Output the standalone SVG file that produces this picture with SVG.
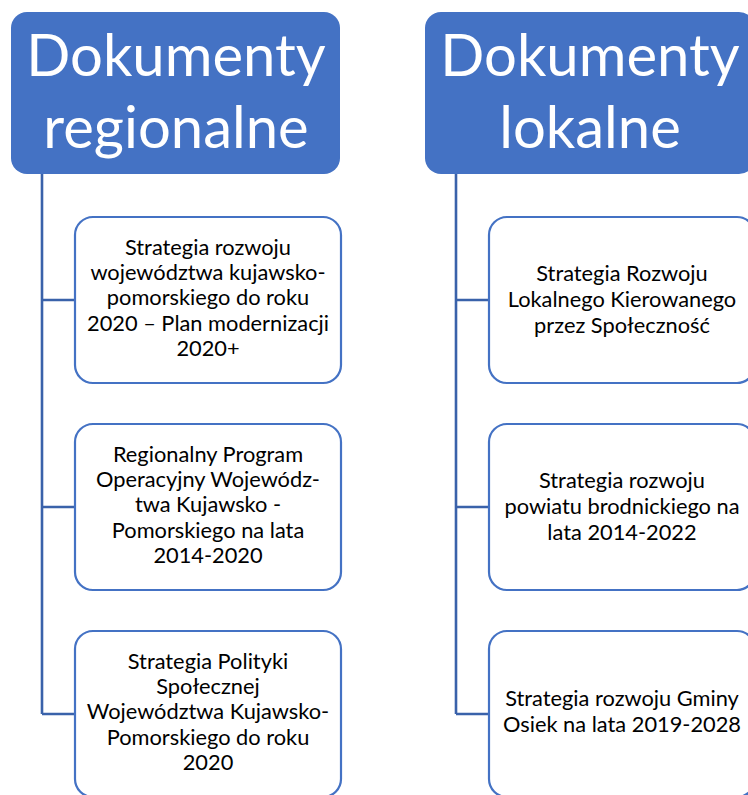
<svg xmlns="http://www.w3.org/2000/svg" width="748" height="795" viewBox="0 0 748 795">
<style>
.hdr{fill:#4472C4;}
.hdrt{font-family:Lato,"Liberation Sans",sans-serif;font-size:58px;fill:#fff;text-anchor:middle;}
.box{fill:#fff;stroke:#4472C4;stroke-width:2.2;}
.t{font-family:Lato,"Liberation Sans",sans-serif;font-size:21.8px;fill:#000;text-anchor:middle;}
.con{fill:none;stroke:#3A62AA;stroke-width:2.6;}
</style>
<rect width="748" height="795" fill="#fff"/>
<g id="connectors">
<path class="con" d="M42 174 V714 M42 300 H75 M42 507 H75 M42 714 H75"/>
<path class="con" d="M456 174 V714 M456 300 H489 M456 507 H489 M456 714 H489"/>
</g>
<g id="h1">
<rect class="hdr" x="11" y="12" width="329" height="162" rx="16"/>
<text class="hdrt" x="176" y="76">Dokumenty</text>
<text class="hdrt" x="176" y="148">regionalne</text>
</g>
<g id="h2">
<rect class="hdr" x="425" y="12" width="330" height="162" rx="16"/>
<text class="hdrt" x="590" y="76">Dokumenty</text>
<text class="hdrt" x="590" y="148">lokalne</text>
</g>
<g id="l1">
<rect class="box" x="75" y="217" width="266" height="166" rx="18"/>
<text class="t" x="208" y="255">Strategia rozwoju</text>
<text class="t" x="208" y="280">województwa kujawsko-</text>
<text class="t" x="208" y="305">pomorskiego do roku</text>
<text class="t" x="208" y="331">2020 – Plan modernizacji</text>
<text class="t" x="208" y="356">2020+</text>
</g>
<g id="l2">
<rect class="box" x="75" y="424" width="266" height="166" rx="18"/>
<text class="t" x="208" y="462">Regionalny Program</text>
<text class="t" x="208" y="487">Operacyjny Wojewódz-</text>
<text class="t" x="208" y="512">twa Kujawsko -</text>
<text class="t" x="208" y="538">Pomorskiego na lata</text>
<text class="t" x="208" y="563">2014-2020</text>
</g>
<g id="l3">
<rect class="box" x="75" y="631" width="266" height="166" rx="18"/>
<text class="t" x="208" y="669">Strategia Polityki</text>
<text class="t" x="208" y="694">Społecznej</text>
<text class="t" x="208" y="719">Województwa Kujawsko-</text>
<text class="t" x="208" y="745">Pomorskiego do roku</text>
<text class="t" x="208" y="770">2020</text>
</g>
<g id="r1">
<rect class="box" x="489" y="217" width="266" height="166" rx="18"/>
<text class="t" x="622" y="281">Strategia Rozwoju</text>
<text class="t" x="622" y="307">Lokalnego Kierowanego</text>
<text class="t" x="622" y="333">przez Społeczność</text>
</g>
<g id="r2">
<rect class="box" x="489" y="424" width="266" height="166" rx="18"/>
<text class="t" x="622" y="488">Strategia rozwoju</text>
<text class="t" x="622" y="514">powiatu brodnickiego na</text>
<text class="t" x="622" y="540">lata 2014-2022</text>
</g>
<g id="r3">
<rect class="box" x="489" y="631" width="266" height="166" rx="18"/>
<text class="t" x="622" y="706">Strategia rozwoju Gminy</text>
<text class="t" x="622" y="732">Osiek na lata 2019-2028</text>
</g>
</svg>
